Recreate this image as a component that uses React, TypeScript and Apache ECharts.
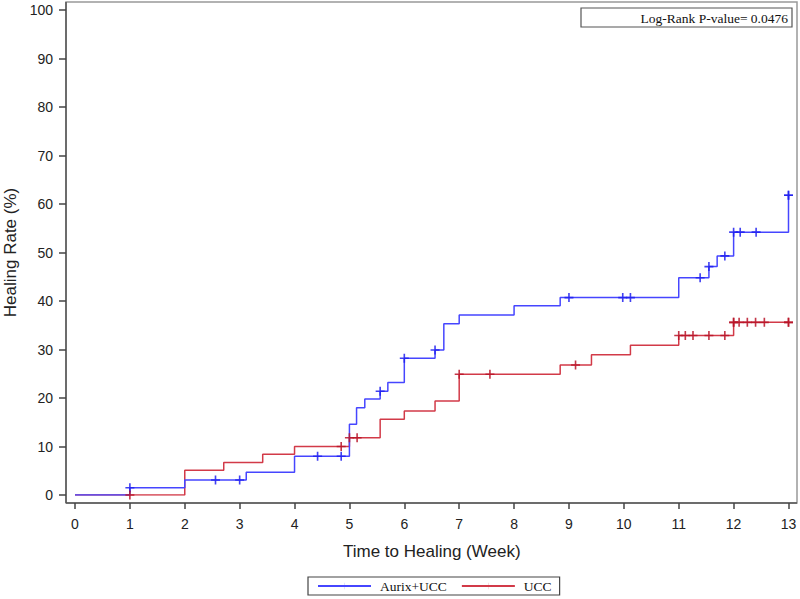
import React, { useEffect, useRef } from "react";
import * as echarts from "echarts";

const xTicks = [0, 1, 2, 3, 4, 5, 6, 7, 8, 9, 10, 11, 12, 13];
const yTicks = [0, 10, 20, 30, 40, 50, 60, 70, 80, 90, 100];

const aurixTimes = [0, 1, 2, 3.12, 4, 5, 5.13, 5.28, 5.56, 5.7, 6, 6.56, 6.72, 7, 8, 8.84, 11, 11.55, 11.7, 12, 13];
const aurixRates = [0, 1.5, 3.1, 4.7, 8.0, 14.6, 18.0, 19.8, 21.4, 23.2, 28.2, 29.9, 35.3, 37.1, 39.0, 40.7, 44.8, 47.1, 49.3, 54.2, 61.8];
const aurixCensorTimes = [1, 2.56, 3.0, 4.42, 4.85, 5.56, 6.0, 6.56, 9.0, 9.98, 10.12, 11.39, 11.55, 11.84, 12.0, 12.12, 12.41, 13, 13];
const aurixCensorRates = [1.5, 3.1, 3.1, 8.0, 8.0, 21.4, 28.2, 29.9, 40.7, 40.7, 40.7, 44.8, 47.1, 49.3, 54.2, 54.2, 54.2, 61.8, 61.8];

const uccTimes = [0, 2, 2.71, 3.42, 4, 5, 5.56, 6, 6.56, 7, 8.84, 9.41, 10.12, 11, 12, 13];
const uccRates = [0, 5.1, 6.7, 8.4, 10.0, 11.8, 15.6, 17.3, 19.4, 24.9, 26.8, 28.9, 30.9, 32.9, 35.6, 35.6];
const uccCensorTimes = [1, 4.85, 5.0, 5.14, 7.0, 7.56, 9.12, 11.0, 11.12, 11.26, 11.55, 11.84, 12.0, 12.0, 12.1, 12.25, 12.4, 12.56, 13, 13];
const uccCensorRates = [0, 10.0, 11.8, 11.8, 24.9, 24.9, 26.8, 32.9, 32.9, 32.9, 32.9, 32.9, 35.6, 35.6, 35.6, 35.6, 35.6, 35.6, 35.6, 35.6];

const pValueText = "Log-Rank P-value= 0.0476";

const BLUE = "#4646ff";
const BLUE_DARK = "#2020f0";
const RED = "#d23a48";
const RED_DARK = "#b81428";

const CROSS = "path://M4.1,0 H5.9 V4.1 H10 V5.9 H5.9 V10 H4.1 V5.9 H0 V4.1 H4.1 Z";
const LEGEND_ICON = "path://M0,3.4 H54 V4.6 H0 Z M26.3,0 H27.7 V8 H26.3 Z";
const TICK_FONT = "'Liberation Sans Narrow', 'Liberation Sans', sans-serif";

export default function App() {
  const ref = useRef<HTMLDivElement>(null);
  useEffect(() => {
    if (!ref.current) return;
    const chart = echarts.init(ref.current, undefined, { renderer: "svg" });
    const zip = (a: number[], b: number[]) => a.map((v, i) => [v, b[i]]);
    chart.setOption({
      animation: false,
      backgroundColor: "#ffffff",
      grid: {
        left: 75,
        right: 11.5,
        top: 10,
        bottom: 104,
        containLabel: false,
        outerBoundsMode: "none",
      },
      xAxis: {
        type: "value",
        min: 0,
        max: 13,
        interval: 1,
        offset: 8,
        name: "Time to Healing (Week)",
        nameLocation: "middle",
        nameGap: 40,
        nameTextStyle: { fontFamily: "Liberation Sans", fontSize: 17, color: "#222" },
        axisLine: { show: false, onZero: false },
        axisTick: { show: true, length: 6, lineStyle: { color: "#444", width: 1.5 } },
        axisLabel: {
          margin: 14,
          fontFamily: TICK_FONT,
          fontSize: 14,
          color: "#222",
          formatter: (v: number) => (xTicks.includes(v) ? String(v) : ""),
        },
        splitLine: { show: false },
      },
      yAxis: {
        type: "value",
        min: 0,
        max: 100,
        interval: 10,
        offset: 9,
        name: "Healing Rate (%)",
        nameLocation: "middle",
        nameGap: 46,
        nameRotate: 90,
        nameTextStyle: { fontFamily: "Liberation Sans", fontSize: 17, color: "#222" },
        axisLine: { show: false, onZero: false },
        axisTick: { show: true, length: 7, lineStyle: { color: "#444", width: 1.5 } },
        axisLabel: {
          margin: 13,
          fontFamily: TICK_FONT,
          fontSize: 14,
          color: "#222",
          formatter: (v: number) => (yTicks.includes(v) ? String(v) : ""),
        },
        splitLine: { show: false },
      },
      legend: {
        left: 308,
        top: 577,
        orient: "horizontal",
        data: ["Aurix+UCC", "UCC"],
        itemWidth: 53,
        itemHeight: 8,
        itemGap: 14,
        padding: [2, 8, 2, 9],
        borderColor: "#444",
        borderWidth: 1.2,
        textStyle: { fontFamily: "Liberation Serif", fontSize: 13.5, color: "#111", padding: [0, 0, 0, 4] },
      },
      graphic: [
        {
          type: "rect",
          shape: { x: 66, y: 2, width: 731, height: 501 },
          style: { fill: "none", stroke: "#999", lineWidth: 1.5 },
          silent: true,
        },
        {
          type: "line",
          shape: { x1: 66, y1: 2, x2: 66, y2: 503 },
          style: { stroke: "#555", lineWidth: 1.5 },
          silent: true,
        },
        {
          type: "line",
          shape: { x1: 66, y1: 503, x2: 797, y2: 503 },
          style: { stroke: "#555", lineWidth: 1.5 },
          silent: true,
        },
        {
          type: "rect",
          shape: { x: 581, y: 8, width: 211, height: 19 },
          style: { fill: "#fff", stroke: "#555", lineWidth: 1.2 },
          silent: true,
        },
        {
          type: "text",
          x: 788,
          y: 18,
          style: {
            text: pValueText,
            font: "13.5px 'Liberation Serif'",
            fill: "#111",
            align: "right",
            verticalAlign: "middle",
          },
          silent: true,
        },
      ],
      series: [
        {
          name: "Aurix+UCC",
          type: "line",
          step: "end",
          data: zip(aurixTimes, aurixRates),
          showSymbol: false,
          symbol: LEGEND_ICON,
          lineStyle: { color: BLUE, width: 1.5 },
          itemStyle: { color: BLUE },
          z: 3,
        },
        {
          name: "UCC",
          type: "line",
          step: "end",
          data: zip(uccTimes, uccRates),
          showSymbol: false,
          symbol: LEGEND_ICON,
          lineStyle: { color: RED, width: 1.5 },
          itemStyle: { color: RED },
          z: 2,
        },
        {
          name: "Aurix+UCC censored",
          type: "scatter",
          data: zip(aurixCensorTimes, aurixCensorRates),
          symbol: CROSS,
          symbolSize: 9,
          itemStyle: { color: BLUE_DARK, opacity: 0.85 },
          z: 4,
        },
        {
          name: "UCC censored",
          type: "scatter",
          data: zip(uccCensorTimes, uccCensorRates),
          symbol: CROSS,
          symbolSize: 9,
          itemStyle: { color: RED_DARK, opacity: 0.85 },
          z: 4,
        },
      ],
    });
    return () => chart.dispose();
  }, []);
  return (
    <div
      ref={ref}
      style={{ position: "fixed", left: 0, top: 0, width: 800, height: 599, background: "#fff" }}
    />
  );
}
